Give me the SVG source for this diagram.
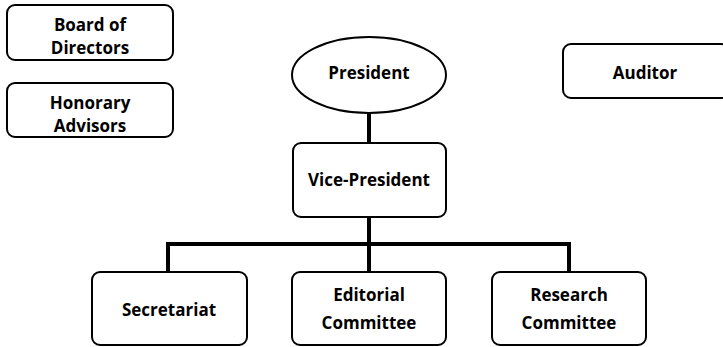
<svg xmlns="http://www.w3.org/2000/svg" width="723" height="347" viewBox="0 0 723 347">
<style>
.box{fill:#fff;stroke:#000;stroke-width:2}
.t{font-family:"Open Sans","Noto Sans",sans-serif;font-weight:bold;font-size:17px;text-anchor:middle;fill:#000}
.c{fill:none;stroke:#000;stroke-width:4}
</style>
<rect width="723" height="347" fill="#fff"/>
<g id="connectors">
<line class="c" x1="369" y1="113" x2="369" y2="143"/>
<line class="c" x1="369" y1="217" x2="369" y2="272"/>
<polyline class="c" points="168,272 168,244 569,244 569,272"/>
</g>
<g id="board"><rect class="box" x="7" y="5" width="166" height="55" rx="8"/><text class="t" x="90" y="31">Board of</text><text class="t" x="90" y="54">Directors</text></g>
<g id="honorary"><rect class="box" x="7" y="83" width="166" height="54" rx="8"/><text class="t" x="90" y="109">Honorary</text><text class="t" x="90" y="132">Advisors</text></g>
<g id="president"><ellipse class="box" cx="369" cy="75" rx="77" ry="38"/><text class="t" x="369" y="79">President</text></g>
<g id="auditor"><rect class="box" x="563" y="44" width="166" height="54" rx="8"/><text class="t" x="645" y="79">Auditor</text></g>
<g id="vice"><rect class="box" x="293" y="143" width="153" height="74" rx="8"/><text class="t" x="369" y="186">Vice-President</text></g>
<g id="secretariat"><rect class="box" x="92" y="272" width="155" height="73" rx="8"/><text class="t" x="169" y="316">Secretariat</text></g>
<g id="editorial"><rect class="box" x="292" y="272" width="154" height="73" rx="8"/><text class="t" x="369" y="301">Editorial</text><text class="t" x="369" y="329">Committee</text></g>
<g id="research"><rect class="box" x="492" y="272" width="154" height="73" rx="8"/><text class="t" x="569" y="301">Research</text><text class="t" x="569" y="329">Committee</text></g>
</svg>
